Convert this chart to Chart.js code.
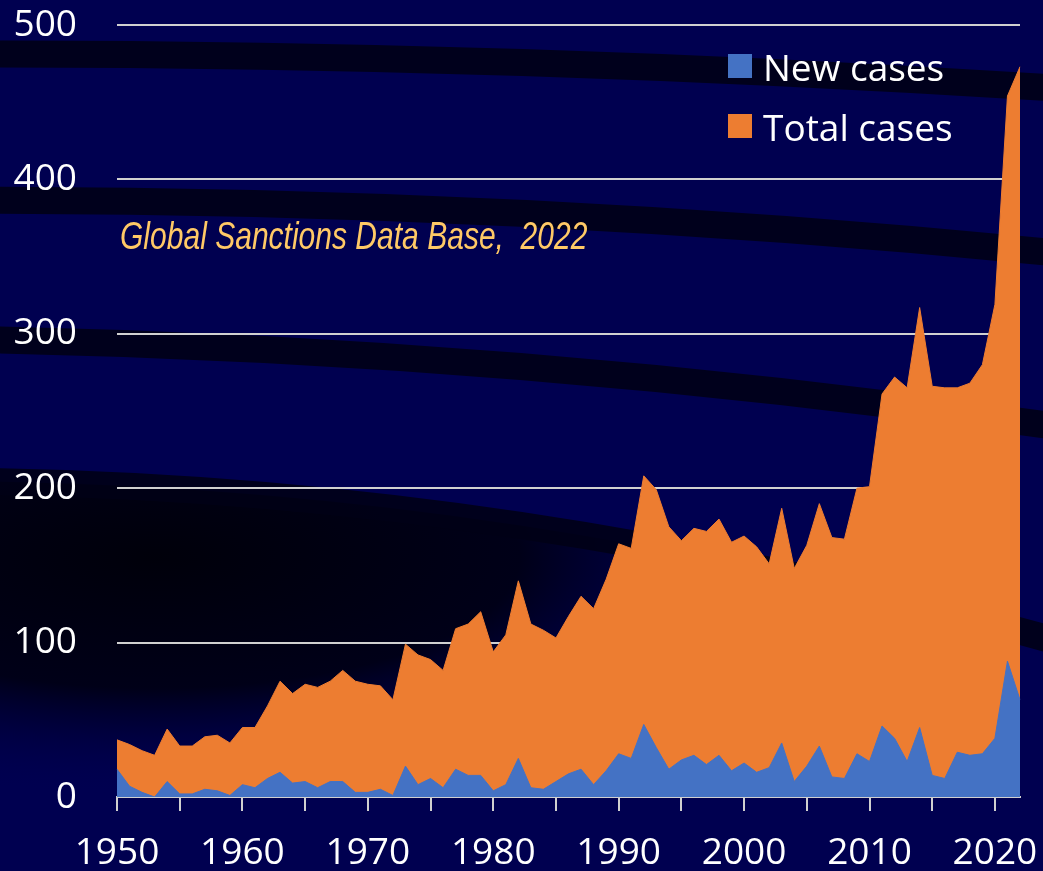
<!DOCTYPE html>
<html>
<head>
<meta charset="utf-8">
<script src="https://cdn.jsdelivr.net/npm/chart.js"></script>
<style>
  html, body { margin: 0; padding: 0; background: #000050; }
  #wrap { position: relative; width: 1043px; height: 871px; }
  #legend { position: absolute; left: 728px; top: 36px; font-family: "Open Sans", sans-serif; font-size: 37px; color: #ffffff; }
  #legend div { display: flex; align-items: center; height: 60px; }
  #legend span.box { display: inline-block; width: 24px; height: 24px; margin-right: 11px; }
  #note { position: absolute; left: 120px; top: 214px; font-family: "Liberation Sans", sans-serif; font-style: italic; font-size: 39px; color: #ffc966; transform: scaleX(0.77); transform-origin: left top; white-space: nowrap; }
</style>
</head>
<body>
<div id="wrap">
  <canvas id="chart" width="1043" height="871"></canvas>
  <div id="legend"></div>
  <div id="note">Global Sanctions Data Base,&nbsp; 2022</div>
</div>
<script>
const years = [
  1950, 1951, 1952, 1953, 1954, 1955, 1956, 1957, 1958, 1959,
  1960, 1961, 1962, 1963, 1964, 1965, 1966, 1967, 1968, 1969,
  1970, 1971, 1972, 1973, 1974, 1975, 1976, 1977, 1978, 1979,
  1980, 1981, 1982, 1983, 1984, 1985, 1986, 1987, 1988, 1989,
  1990, 1991, 1992, 1993, 1994, 1995, 1996, 1997, 1998, 1999,
  2000, 2001, 2002, 2003, 2004, 2005, 2006, 2007, 2008, 2009,
  2010, 2011, 2012, 2013, 2014, 2015, 2016, 2017, 2018, 2019,
  2020, 2021, 2022
];

const newCases = [
  18, 7, 3, 0, 10, 2, 2, 5, 4, 1,
  8, 6, 12, 16, 9, 10, 6, 10, 10, 3,
  3, 5, 1, 20, 8, 12, 6, 18, 14, 14,
  4, 8, 25, 6, 5, 10, 15, 18, 8, 17,
  28, 25, 47, 32, 18, 24, 27, 21, 27, 17,
  22, 16, 19, 35, 10, 20, 33, 13, 12, 28,
  23, 46, 38, 23, 45, 14, 12, 29, 27, 28,
  38, 88, 63
];

const totalCases = [
  37, 34, 30, 27, 44, 33, 33, 39, 40, 35,
  45, 45, 59, 75, 67, 73, 71, 75, 82, 75,
  73, 72, 63, 99, 92, 89, 82, 109, 112, 120,
  94, 105, 140, 112, 108, 103, 117, 130, 122, 141,
  164, 161, 208, 199, 175, 166, 174, 172, 180, 165,
  169, 162, 151, 187, 148, 163, 190, 168, 167, 200,
  201, 261, 272, 265, 317, 266, 265, 265, 268, 280,
  319, 454, 473
];

const yTicks = [0, 100, 200, 300, 400, 500];

const seriesNames = ["New cases", "Total cases"];
const seriesColors = ["#4472c4", "#ed7d31"];

// navy background with the dark swooshes (decoration only)
const backdrop = {
  id: "backdrop",
  beforeDraw(chart) {
    const c = chart.ctx;
    const w = chart.width, h = chart.height;
    c.save();
    c.fillStyle = "#000050";
    c.fillRect(0, 0, w, h);

    // curves as fractions of the canvas: [left y, control y, right y]
    const bands = [
      [0.062, 0.062, 0.101],
      [0.230, 0.230, 0.290],
      [0.390, 0.402, 0.489],
      [0.553, 0.563, 0.735]
    ];

    // big dark patch under the last swoosh
    const last = bands[bands.length - 1];
    c.save();
    c.beginPath();
    c.moveTo(0, h * last[0]);
    c.quadraticCurveTo(w * 0.5, h * last[1], w, h * last[2]);
    c.lineTo(w, h);
    c.lineTo(0, h);
    c.closePath();
    c.clip();
    c.translate(w * 0.15, h * 0.64);
    c.scale(1, 0.36);
    const rg = c.createRadialGradient(0, 0, 0, 0, 0, 660);
    rg.addColorStop(0, "rgba(0,0,8,0.97)");
    rg.addColorStop(0.55, "rgba(0,0,14,0.85)");
    rg.addColorStop(1, "rgba(0,0,80,0)");
    c.fillStyle = rg;
    c.fillRect(-w, -h * 3, w * 3, h * 6);
    c.restore();

    c.strokeStyle = "rgba(0,0,22,0.9)";
    c.lineWidth = 27;
    bands.forEach(b => {
      c.beginPath();
      c.moveTo(-10, h * b[0]);
      c.quadraticCurveTo(w * 0.5, h * b[1], w + 10, h * b[2]);
      c.stroke();
    });
    c.restore();
  }
};

const chart = new Chart(document.getElementById("chart"), {
  type: "line",
  data: {
    labels: years,
    datasets: [
      {
        label: seriesNames[0],
        data: newCases,
        backgroundColor: seriesColors[0],
        borderColor: seriesColors[0],
        borderWidth: 1,
        fill: "origin"
      },
      {
        label: seriesNames[1],
        data: totalCases,
        backgroundColor: seriesColors[1],
        borderColor: seriesColors[1],
        borderWidth: 1,
        fill: "origin"
      }
    ]
  },
  options: {
    responsive: false,
    animation: false,
    layout: { padding: { top: 25, right: 23, left: 0, bottom: 0 } },
    elements: { point: { radius: 0 }, line: { tension: 0 } },
    plugins: {
      legend: { display: false },
      tooltip: { enabled: false }
    },
    scales: {
      x: {
        type: "category",
        offset: false,
        afterFit: s => { s.height = 74; },
        border: { display: true, color: "#d0d0d0", width: 2 },
        grid: {
          drawOnChartArea: false,
          drawTicks: true,
          tickLength: 14,
          lineWidth: 2,
          color: ctx => (years[ctx.index] % 5 === 0 ? "#d0d0d0" : "rgba(0,0,0,0)")
        },
        ticks: {
          autoSkip: false,
          maxRotation: 0,
          padding: 20,
          color: "#ffffff",
          font: { family: "Open Sans", size: 37 },
          callback: (v, i) => (years[i] % 10 === 0 ? String(years[i]) : "")
        }
      },
      y: {
        min: yTicks[0],
        max: yTicks[yTicks.length - 1],
        afterFit: s => { s.width = 117; },
        afterBuildTicks: s => { s.ticks = yTicks.map(v => ({ value: v })); },
        border: { display: false },
        grid: {
          color: "#d0d0d0",
          lineWidth: 2,
          drawTicks: true,
          tickLength: 40,
          tickColor: "rgba(0,0,0,0)"
        },
        ticks: {
          padding: 0,
          color: "#ffffff",
          font: { family: "Open Sans", size: 37 }
        }
      }
    }
  },
  plugins: [backdrop]
});

// legend as html, same names/colours as the datasets
const legendEl = document.getElementById("legend");
seriesNames.forEach((name, i) => {
  const row = document.createElement("div");
  const box = document.createElement("span");
  box.className = "box";
  box.style.background = seriesColors[i];
  row.appendChild(box);
  row.appendChild(document.createTextNode(name));
  legendEl.appendChild(row);
});
</script>
</body>
</html>
